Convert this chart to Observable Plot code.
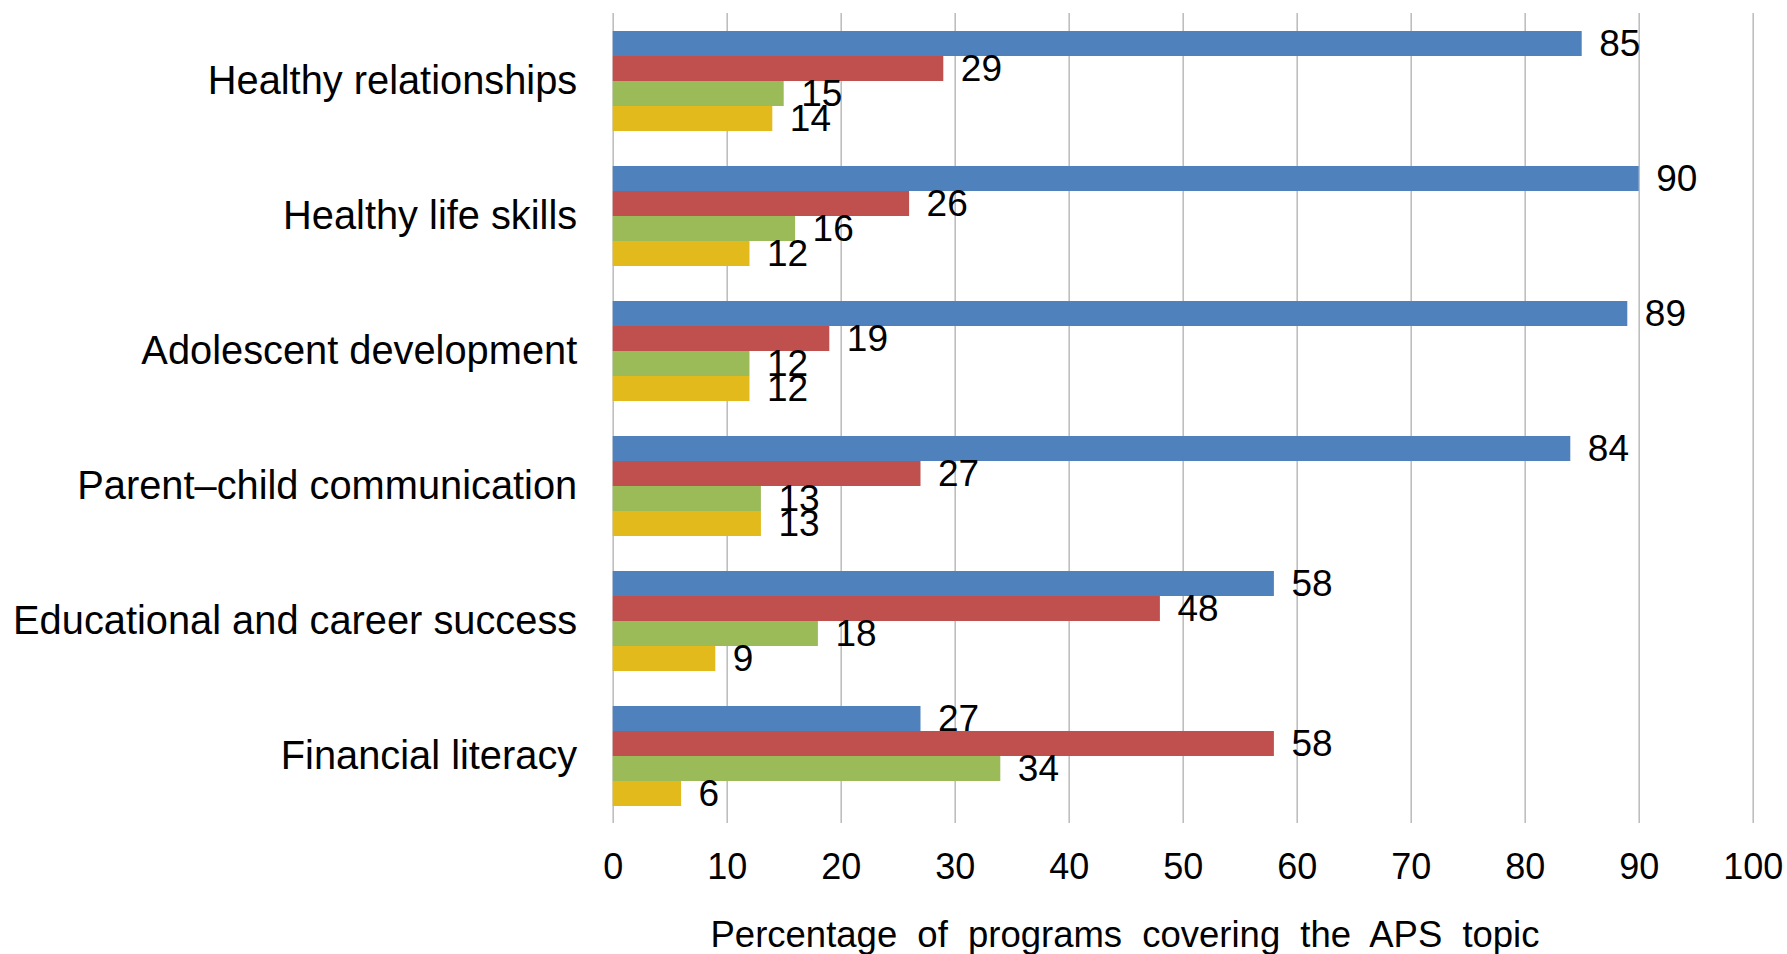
<!DOCTYPE html>
<html>
<head>
<meta charset="utf-8">
<script src="https://cdn.jsdelivr.net/npm/d3@7"></script>
<script src="https://cdn.jsdelivr.net/npm/@observablehq/plot@0.6"></script>
<style>
  html, body { margin: 0; padding: 0; background: #fff; overflow: hidden; }
  #wrap { position: relative; width: 1787px; height: 954px; font-family: "Liberation Sans", Arial, sans-serif; }
  #title { position: absolute; top: 913px; left: 1125px; transform: translateX(-50%); white-space: nowrap;
           font-size: 36.5px; line-height: 44px; word-spacing: 10px; color: #000; }
</style>
</head>
<body>
<div id="wrap"></div>
<script>
// ---- data ----
const categories = [
  "Healthy relationships",
  "Healthy life skills",
  "Adolescent development",
  "Parent\u2013child communication",
  "Educational and career success",
  "Financial literacy"
];
const seriesNames = ["Series 1", "Series 2", "Series 3", "Series 4"];
const series1 = [85, 90, 89, 84, 58, 27];
const series2 = [29, 26, 19, 27, 48, 58];
const series3 = [15, 16, 12, 13, 18, 34];
const series4 = [14, 12, 12, 13, 9, 6];
const xTicks = [0, 10, 20, 30, 40, 50, 60, 70, 80, 90, 100];
const axisTitle = "Percentage of programs covering the APS topic";
const seriesColors = ["#4F81BD", "#C0504D", "#9BBB59", "#E2BA1B"];

const seriesValues = [series1, series2, series3, series4];
const rows = categories.flatMap((c, i) =>
  seriesNames.map((s, j) => ({category: c, series: s, value: seriesValues[j][i]}))
);

const chart = Plot.plot({
  width: 1787,
  height: 906,
  marginLeft: 612.7,
  marginRight: 34.3,
  marginTop: 11,
  marginBottom: 82,
  style: {fontFamily: "Liberation Sans, Arial, sans-serif", background: "#fff", color: "#000", overflow: "visible"},
  x: {domain: [0, 100]},
  y: {domain: seriesNames, paddingInner: 0, paddingOuter: 0.683, axis: null},
  fy: {domain: categories, padding: 0},
  color: {domain: seriesNames, range: seriesColors},
  marks: [
    Plot.gridX(xTicks, {stroke: "#BEBEBE", strokeOpacity: 1, strokeWidth: 1.6}),
    Plot.barX(rows, {x: "value", y: "series", fy: "category", fill: "series"}),
    Plot.text(rows, {x: "value", y: "series", fy: "category", text: d => String(d.value),
                     dx: 17, textAnchor: "start", fontSize: 37, fill: "#000"}),
    Plot.axisX(xTicks, {anchor: "bottom", tickSize: 0, tickPadding: 30, fontSize: 36, label: null}),
    Plot.axisFy({anchor: "left", tickSize: 0, tickPadding: 36, fontSize: 39.8, label: null})
  ]
});
const wrap = document.getElementById("wrap");
wrap.appendChild(chart);
const t = document.createElement("div");
t.id = "title";
t.textContent = axisTitle;
wrap.appendChild(t);
</script>
</body>
</html>
